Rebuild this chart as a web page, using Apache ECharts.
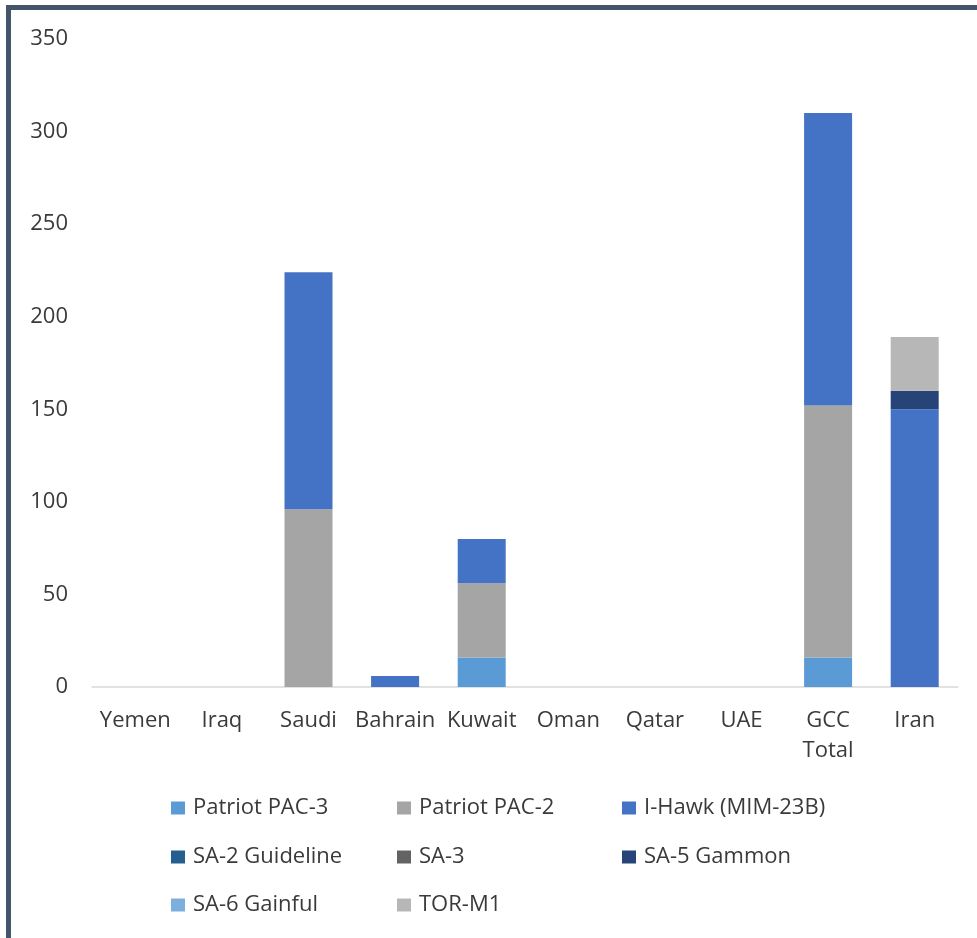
<!DOCTYPE html>
<html>
<head>
<meta charset="utf-8">
<script src="https://cdn.jsdelivr.net/npm/echarts@6/dist/echarts.min.js"></script>
<style>
  html, body { margin: 0; padding: 0; background: #ffffff; }
  #frame { position: absolute; left: 6px; top: 5px; width: 971px; height: 933px;
           border-left: 5px solid #44546a; border-top: 5px solid #44546a; box-sizing: border-box; }
  #chart { position: absolute; left: 0; top: 0; width: 977px; height: 938px; }
</style>
</head>
<body>
<div id="frame"></div>
<div id="chart"></div>
<script>
const categories = ['Yemen', 'Iraq', 'Saudi', 'Bahrain', 'Kuwait', 'Oman', 'Qatar', 'UAE', 'GCC\nTotal', 'Iran'];
const patriotPac3 = [0, 0, 0, 0, 16, 0, 0, 0, 16, 0];
const patriotPac2 = [0, 0, 96, 0, 40, 0, 0, 0, 136, 0];
const iHawk       = [0, 0, 128, 6, 24, 0, 0, 0, 158, 150];
const sa2         = [0, 0, 0, 0, 0, 0, 0, 0, 0, 0];
const sa3         = [0, 0, 0, 0, 0, 0, 0, 0, 0, 0];
const sa5         = [0, 0, 0, 0, 0, 0, 0, 0, 0, 10];
const sa6         = [0, 0, 0, 0, 0, 0, 0, 0, 0, 0];
const torM1       = [0, 0, 0, 0, 0, 0, 0, 0, 0, 29];
const seriesNames = ['Patriot PAC-3', 'Patriot PAC-2', 'I-Hawk (MIM-23B)', 'SA-2 Guideline', 'SA-3', 'SA-5 Gammon', 'SA-6 Gainful', 'TOR-M1'];
const seriesData = [patriotPac3, patriotPac2, iHawk, sa2, sa3, sa5, sa6, torM1];
const colors = ['#5b9bd5', '#a5a5a5', '#4472c4', '#255e91', '#636363', '#264478', '#7cafdd', '#b7b7b7'];

const FONT = '"Open Sans", sans-serif';
const TEXT = '#3a3a3a';

const legendPos = [
  [171, 808], [397, 808], [622, 808],
  [171, 857], [397, 857], [622, 857],
  [171, 905], [397, 905]
];

const chart = echarts.init(document.getElementById('chart'), null, { renderer: 'canvas' });
chart.setOption({
  animation: false,
  color: colors,
  grid: { left: 92, right: 19, top: 39, bottom: 251, containLabel: false },
  legend: seriesNames.map((n, i) => ({
    data: [n],
    left: legendPos[i][0],
    top: legendPos[i][1] - 13,
    padding: 0,
    icon: 'rect',
    itemWidth: 14,
    itemHeight: 13,
    selectedMode: false,
    textStyle: { fontFamily: FONT, fontSize: 22, color: TEXT, lineHeight: 26, padding: [0, 0, 0, 3] }
  })),
  xAxis: {
    type: 'category',
    data: categories,
    axisLine: { lineStyle: { color: '#d9d9d9', width: 1.5 } },
    axisTick: { show: false },
    axisLabel: { fontFamily: FONT, fontSize: 22, color: TEXT, lineHeight: 30, margin: 19, interval: 0 }
  },
  yAxis: {
    type: 'value',
    min: 0, max: 350, interval: 50,
    splitLine: { show: false },
    axisLine: { show: false },
    axisTick: { show: false },
    axisLabel: { fontFamily: FONT, fontSize: 22, color: TEXT, margin: 24 }
  },
  series: seriesNames.map((n, i) => ({
    name: n,
    type: 'bar',
    stack: 'total',
    data: seriesData[i],
    barWidth: 48,
    itemStyle: { color: colors[i] }
  }))
});
</script>
</body>
</html>
